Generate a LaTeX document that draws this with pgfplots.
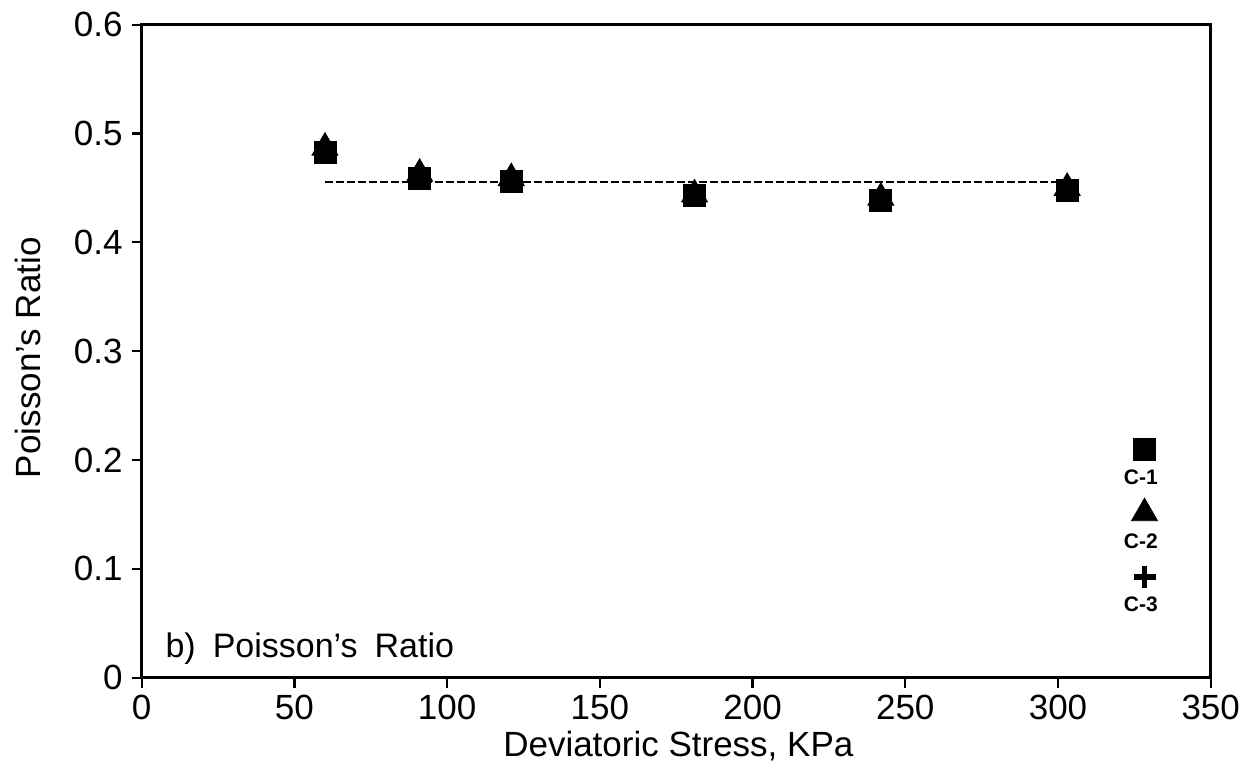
\documentclass[border=0pt]{standalone}
\usepackage{fontspec}
\setmainfont{Liberation Sans}
\usepackage{pgfplots}
\pgfplotsset{compat=1.18}
\begin{document}
\begin{tikzpicture}
\begin{axis}[
  name=ax,
  scale only axis,
  width=534.5pt, height=326.5pt,
  xmin=0, xmax=350, ymin=0, ymax=0.6,
  xtick={0,50,...,350},
  ytick={0,0.1,0.2,0.3,0.4,0.5,0.6},
  yticklabels={0,0.1,0.2,0.3,0.4,0.5,0.6},
  xtick pos=bottom, ytick pos=left,
  tick align=outside,
  major tick length=5pt,
  every tick/.style={black, line width=1.1pt},
  axis line style={line width=1.5pt},
  tick label style={font=\fontsize{17.5}{19}\selectfont},
  yticklabel style={xshift=-1pt},
  /pgf/number format/assume math mode=true,
  xlabel={Deviatoric Stress, KPa},
  ylabel={Poisson's Ratio},
  every axis x label/.style={at={(rel axis cs:0.502,0)}, anchor=center, yshift=-34pt, font=\fontsize{17.5}{19}\selectfont},
  every axis y label/.style={at={(rel axis cs:0,0.49)}, anchor=center, rotate=90, yshift=57pt, font=\fontsize{17.5}{19}\selectfont},
  legend style={at={(axis cs:327,0.1245)}, anchor=center, draw=none, fill=none,
    font=\bfseries\fontsize{10.5}{11}\selectfont, row sep=19pt},
  legend cell align=center,
  legend image code/.code={\path (0,0); \draw[#1, overlay] plot coordinates {(12.5pt,14.5pt)};},
]
\addplot[only marks, mark=square*, mark size=5.5pt, black] coordinates {
  (60,0.483) (91,0.459) (121,0.456) (181,0.443) (242,0.439) (303,0.448)};
\addlegendentry{C-1}
\addplot[only marks, mark=triangle*, mark size=7.5pt, black] coordinates {
  (60,0.487) (91,0.463) (121,0.459) (181,0.444) (242,0.441) (303,0.450)};
\addlegendentry{C-2}
\addplot[only marks, mark=+, mark size=5.5pt, black, mark options={line width=2.8pt}] coordinates {
  (60,0.484) (91,0.460) (121,0.456) (181,0.443) (242,0.440) (303,0.448)};
\addlegendentry{C-3}
\addplot[black, line width=1.2pt, dash pattern=on 4pt off 1.5pt, forget plot] coordinates {
  (60,0.4555) (303,0.4555)};
\node[anchor=west, font=\fontsize{17}{19}\selectfont] at (axis cs:5.5,0.0267) {b)\enspace Poisson's\enspace Ratio};
\end{axis}
\pgfresetboundingbox
\path ([xshift=-70.85pt,yshift=-47.5pt]ax.south west) rectangle ([xshift=23.15pt,yshift=12.35pt]ax.north east);
\end{tikzpicture}
\end{document}
